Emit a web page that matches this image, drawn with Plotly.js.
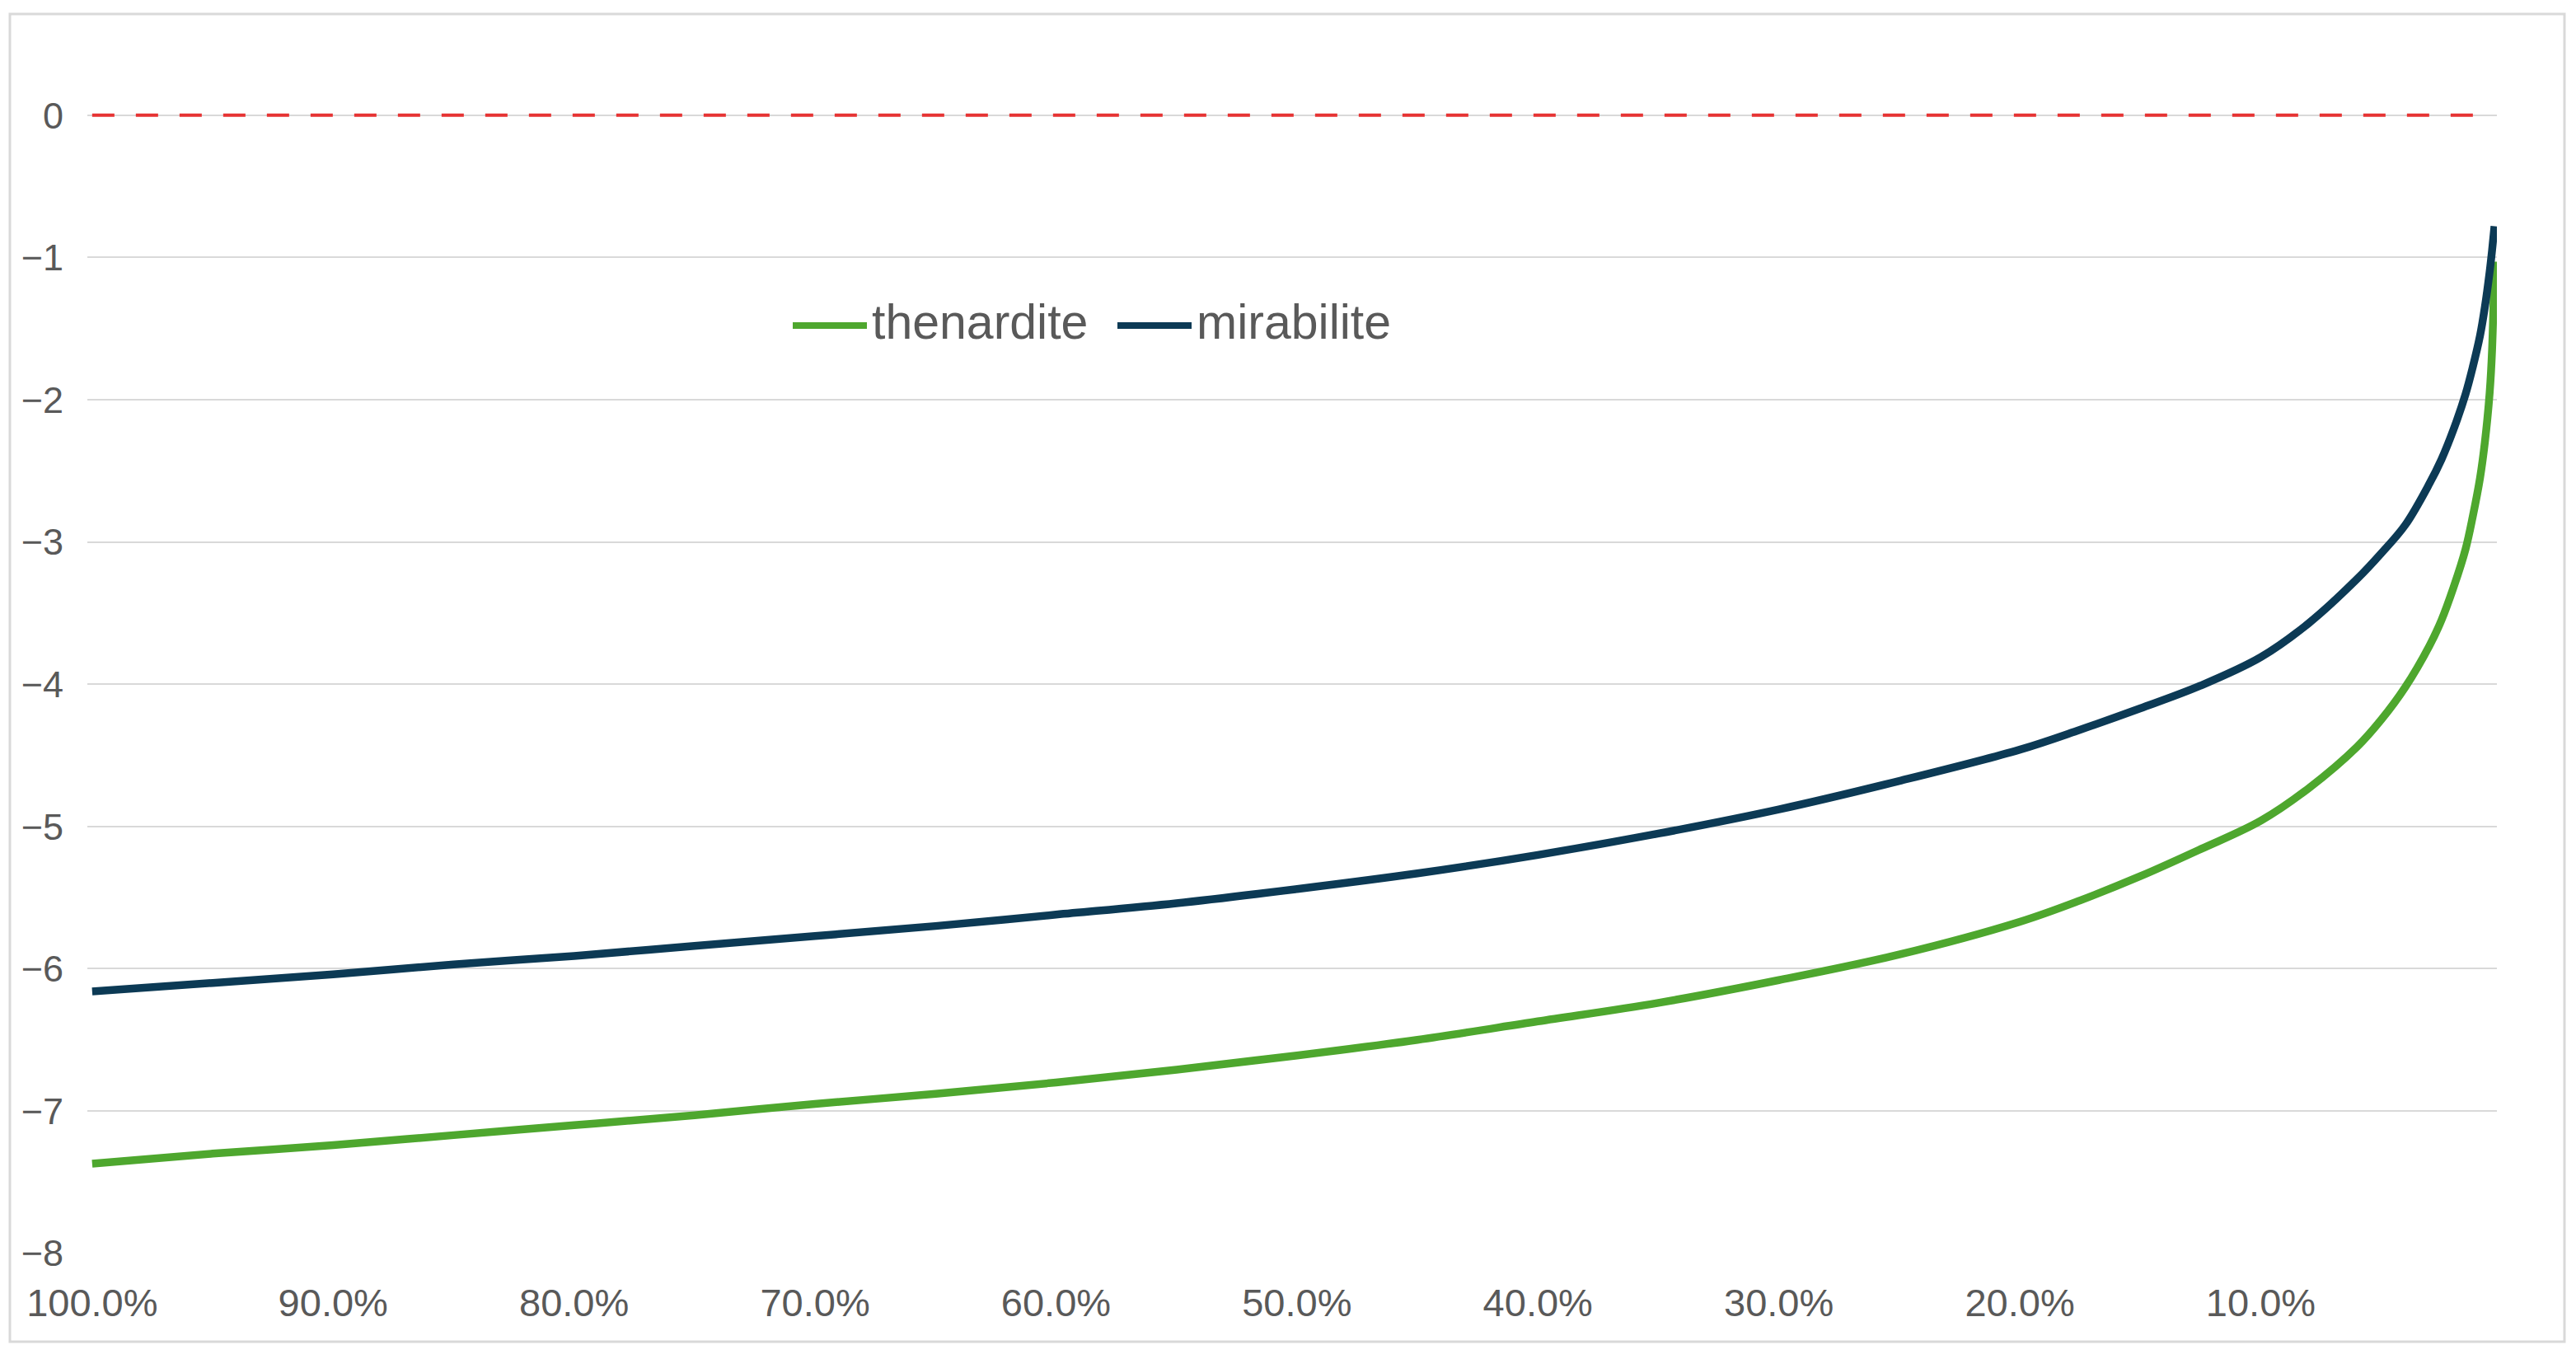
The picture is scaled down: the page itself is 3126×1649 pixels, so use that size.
<!DOCTYPE html>
<html>
<head>
<meta charset="utf-8">
<script src="https://cdn.plot.ly/plotly-3.0.1.min.js"></script>
<style>
  html, body { margin: 0; padding: 0; background: #ffffff; }
  #chart { width: 3126px; height: 1649px; }
</style>
</head>
<body>
<div id="chart"></div>
<script>
// ---- data (x = remaining fraction) ----
const seriesNames = ["thenardite", "mirabilite"];

const fraction = [1.00, 0.95, 0.90, 0.85, 0.80, 0.75, 0.70, 0.65, 0.60, 0.55,
                  0.50, 0.45, 0.40, 0.35, 0.30, 0.25, 0.20, 0.175, 0.15, 0.125,
                  0.10, 0.08, 0.06, 0.05, 0.04, 0.03, 0.025, 0.02, 0.015, 0.012,
                  0.009, 0.007, 0.005, 0.004, 0.003];

const thenardite = [-7.37, -7.30, -7.24, -7.17, -7.10, -7.03, -6.95, -6.88, -6.80, -6.71,
                    -6.61, -6.50, -6.37, -6.24, -6.08, -5.90, -5.67, -5.52, -5.35, -5.16,
                    -4.96, -4.73, -4.44, -4.25, -4.02, -3.73, -3.55, -3.32, -3.05, -2.82,
                    -2.55, -2.30, -1.95, -1.65, -1.03];

const mirabilite = [-6.16, -6.10, -6.04, -5.97, -5.91, -5.84, -5.77, -5.70, -5.62, -5.54,
                    -5.44, -5.33, -5.20, -5.05, -4.88, -4.68, -4.46, -4.32, -4.17, -4.01,
                    -3.81, -3.57, -3.26, -3.08, -2.88, -2.59, -2.42, -2.21, -1.96, -1.77,
                    -1.55, -1.35, -1.10, -0.95, -0.78];

const zeroLineX = [1.00, 0.004];
const zeroLineY = [0, 0];

const xTickVals = [1.0, 0.9, 0.8, 0.7, 0.6, 0.5, 0.4, 0.3, 0.2, 0.1];
const xTickText = ["100.0%", "90.0%", "80.0%", "70.0%", "60.0%", "50.0%", "40.0%", "30.0%", "20.0%", "10.0%"];
const yTickVals = [0, -1, -2, -3, -4, -5, -6, -7, -8];

// ---- styles ----
const colors = ["#4EA72E", "#0C3A55"];
const textColor = "#595959";
const gridColor = "#D9D9D9";
const fontFamily = "'Liberation Sans', Arial, Helvetica, sans-serif";

const W = 3126, H = 1649;
const margin = { l: 106, r: 96, t: 31, b: 128 };
const plotW = W - margin.l - margin.r;
const plotH = H - margin.t - margin.b;
const px = v => (v - margin.l) / plotW;          // pixel -> paper x
const py = v => (H - margin.b - v) / plotH;      // pixel -> paper y

const traces = [
  {
    x: zeroLineX, y: zeroLineY, type: "scatter", mode: "lines",
    line: { color: "#E63333", width: 4, dash: "27px,26px" },
    showlegend: false, hoverinfo: "skip"
  },
  {
    x: fraction, y: thenardite, type: "scatter", mode: "lines", name: seriesNames[0],
    line: { color: colors[0], width: 9.5, shape: "spline", smoothing: 1 }, showlegend: false
  },
  {
    x: fraction, y: mirabilite, type: "scatter", mode: "lines", name: seriesNames[1],
    line: { color: colors[1], width: 9.5, shape: "spline", smoothing: 1 }, showlegend: false
  }
];

// custom legend (long line keys like the reference)
const legendY = py(395);
const legendTextY = py(391);
const legendItems = [
  { x0: 962, x1: 1052, tx: 1056 },
  { x0: 1356, x1: 1446, tx: 1450 }
];
const shapes = [
  {
    type: "rect", xref: "paper", yref: "paper",
    x0: px(12), x1: px(3112), y0: py(1628), y1: py(17),
    line: { color: gridColor, width: 3 }, fillcolor: "rgba(0,0,0,0)", layer: "below"
  }
];
const annotations = [];
legendItems.forEach((it, i) => {
  shapes.push({
    type: "line", xref: "paper", yref: "paper",
    x0: px(it.x0), x1: px(it.x1), y0: legendY, y1: legendY,
    line: { color: colors[i], width: 8 }
  });
  annotations.push({
    xref: "paper", yref: "paper", x: px(it.tx), y: legendTextY,
    xanchor: "left", yanchor: "middle", showarrow: false,
    text: seriesNames[i],
    font: { family: fontFamily, size: 59, color: textColor }
  });
});

const layout = {
  width: W, height: H,
  margin: margin,
  paper_bgcolor: "#ffffff",
  plot_bgcolor: "#ffffff",
  showlegend: false,
  font: { family: fontFamily, color: textColor },
  xaxis: {
    range: [1.002, 0.002],
    tickmode: "array", tickvals: xTickVals, ticktext: xTickText,
    showgrid: false, zeroline: false, showline: false, ticks: "",
    tickfont: { family: fontFamily, size: 47, color: textColor },
    ticklabelstandoff: 28
  },
  yaxis: {
    range: [-8.002, 0.63],
    tickmode: "array", tickvals: yTickVals,
    showgrid: true, gridcolor: gridColor, gridwidth: 2,
    zeroline: false, showline: false, ticks: "",
    tickfont: { family: fontFamily, size: 45, color: textColor },
    ticklabelstandoff: 28
  },
  shapes: shapes,
  annotations: annotations
};

Plotly.newPlot("chart", traces, layout, { staticPlot: true, displayModeBar: false });
</script>
</body>
</html>
